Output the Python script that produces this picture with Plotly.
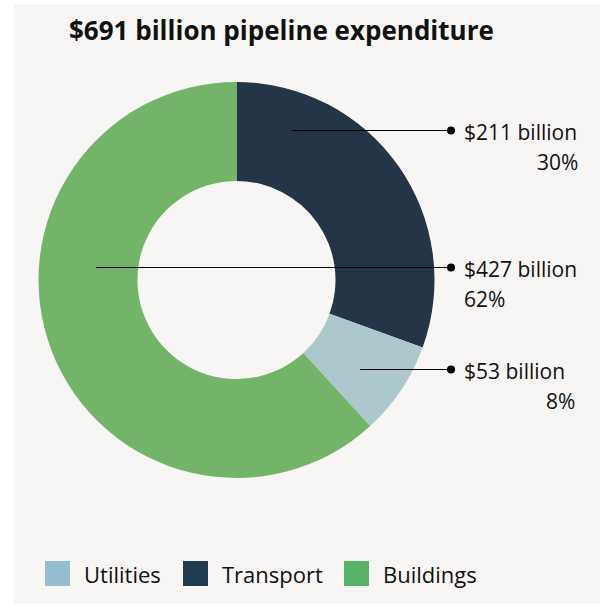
import plotly.graph_objects as go

W, H = 600, 606

# Pipeline expenditure by sector ($ billion)
sectors = ["Transport", "Utilities", "Buildings"]
values = [211, 53, 427]
shares = ["30%", "8%", "62%"]
slice_colors = ["#243547", "#adc8cc", "#74b46a"]

legend_names = ["Utilities", "Transport", "Buildings"]
legend_colors = ["#95bccf", "#213b4e", "#59b26a"]

title_text = "$691 billion pipeline expenditure"
FONT = "Open Sans"


def px(x):
    return x / W


def py(y):
    return 1 - y / H


fig = go.Figure()
fig.add_trace(go.Pie(
    labels=sectors,
    values=values,
    hole=0.5,
    sort=False,
    direction="clockwise",
    rotation=0,
    marker=dict(colors=slice_colors, line=dict(width=0)),
    textinfo="none",
    hoverinfo="label+value+percent",
    showlegend=False,
    domain=dict(x=[px(38), px(435)], y=[py(478), py(82)]),
))

shapes = [
    # panel background
    dict(type="rect", xref="paper", yref="paper", x0=px(14), x1=1, y0=py(604), y1=py(4),
         fillcolor="#f7f6f4", line=dict(width=0), layer="below"),
]
annotations = [
    dict(text="<b>" + title_text + "</b>", xref="paper", yref="paper",
         x=px(67), y=py(30), xanchor="left", yanchor="middle", showarrow=False,
         font=dict(family=FONT, size=26, color="#111111")),
]

# callouts: (line start x, line y, value, share, second line alignment, share right edge)
callouts = [
    (292, 130.5, values[0], shares[0], "right", 578),
    (96, 267.5, values[2], shares[2], "left", None),
    (360, 369.5, values[1], shares[1], "right", 575),
]
for x0, y, val, share, align, xr in callouts:
    shapes.append(dict(type="line", xref="paper", yref="paper",
                       x0=px(x0), x1=px(451), y0=py(y), y1=py(y),
                       line=dict(color="#000000", width=1.2), layer="above"))
    shapes.append(dict(type="circle", xref="paper", yref="paper",
                       x0=px(447), x1=px(455), y0=py(y - 4), y1=py(y + 4),
                       fillcolor="#000000", line=dict(width=0), layer="above"))
    annotations.append(dict(text=f"${val} billion", xref="paper", yref="paper",
                            x=px(462), y=py(y + 1.5), xanchor="left", yanchor="middle",
                            showarrow=False,
                            font=dict(family=FONT, size=21, color="#111111")))
    if align == "right":
        annotations.append(dict(text=share, xref="paper", yref="paper",
                                x=px(xr + 2), y=py(y + 31), xanchor="right", yanchor="middle",
                                showarrow=False,
                                font=dict(family=FONT, size=21, color="#111111")))
    else:
        annotations.append(dict(text=share, xref="paper", yref="paper",
                                x=px(462), y=py(y + 31), xanchor="left", yanchor="middle",
                                showarrow=False,
                                font=dict(family=FONT, size=21, color="#111111")))

# legend
legend_x = [45, 183, 344]
for name, color, lx in zip(legend_names, legend_colors, legend_x):
    shapes.append(dict(type="rect", xref="paper", yref="paper",
                       x0=px(lx), x1=px(lx + 25), y0=py(586), y1=py(561),
                       fillcolor=color, line=dict(width=0), layer="above"))
    annotations.append(dict(text=name, xref="paper", yref="paper",
                            x=px(lx + 37), y=py(574), xanchor="left", yanchor="middle",
                            showarrow=False,
                            font=dict(family=FONT, size=22, color="#111111")))

fig.update_layout(
    width=W, height=H,
    margin=dict(l=0, r=0, t=0, b=0),
    paper_bgcolor="#ffffff",
    plot_bgcolor="#ffffff",
    shapes=shapes,
    annotations=annotations,
    showlegend=False,
)

fig.write_html("out.html")
